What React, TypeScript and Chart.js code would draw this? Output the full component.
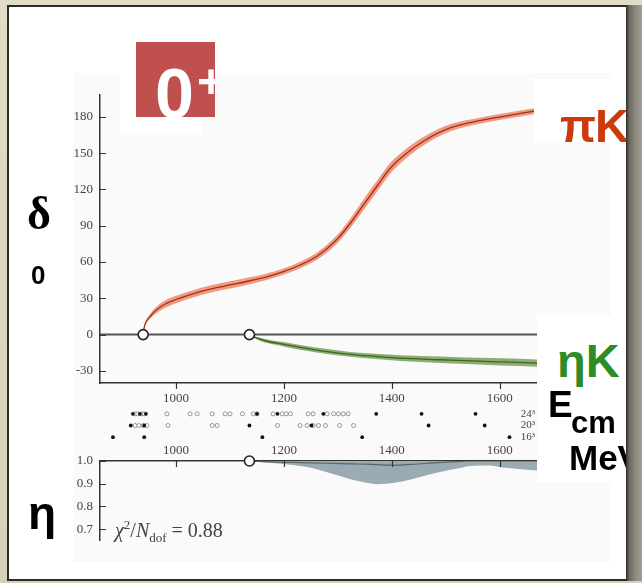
import React, { useEffect, useRef } from "react";
import { Chart, registerables } from "chart.js";

Chart.register(...registerables);

// ---- axes ----
const E_MIN = 859;
const E_MAX = 1669;
const energyTicks = [1000, 1200, 1400, 1600];
const deltaMin = -40;
const deltaMax = 198;
const deltaTicks = [-30, 0, 30, 60, 90, 120, 150, 180];
const etaMin = 0.652;
const etaMax = 1.0;
const etaTicks = [0.7, 0.8, 0.9, 1.0];

// ---- πK phase shift (degrees) ----
const piKEnergy = [939, 941, 945, 952, 960, 975, 1000, 1030, 1063, 1100, 1137, 1170, 1199, 1230, 1262, 1299, 1323, 1347, 1373, 1397, 1422, 1459, 1509, 1565, 1602, 1669];
const piKDelta = [0, 6, 11, 15, 19, 24, 29, 33.5, 37.5, 41, 44.5, 48, 52, 57.5, 65, 79, 92, 107, 123, 137.5, 148, 160, 171, 177, 180, 185];
const piKError = [0.3, 1, 1.5, 2, 2.5, 3, 3, 3, 3, 3, 2.8, 2.7, 2.6, 2.7, 3, 3.5, 4, 4.5, 4.5, 4.5, 4, 3.5, 3, 2.5, 2.5, 2.5];

// ---- ηK phase shift (degrees) ----
const etaKEnergy = [1136, 1150, 1169, 1199, 1230, 1280, 1323, 1370, 1416, 1490, 1560, 1602, 1669];
const etaKDelta = [0, -3, -5.5, -8, -10.5, -14, -16.3, -18, -19.5, -20.8, -22, -22.6, -23.5];
const etaKError = [0.2, 1, 1.5, 1.8, 2, 2, 2, 2.2, 2.4, 2.6, 2.8, 3, 3];

// ---- thresholds ----
const thresholdEnergy = [939, 1136];

// ---- inelasticity η ----
const etaEnergy = [1136, 1160, 1217, 1250, 1280, 1305, 1329, 1350, 1373, 1403, 1435, 1466, 1500, 1527, 1545, 1580, 1610, 1669];
const etaCentral = [1, 0.997, 0.994, 0.992, 0.99, 0.988, 0.987, 0.986, 0.984, 0.982, 0.985, 0.99, 0.995, 0.998, 1, 1, 1, 1];
const etaLower = [1.0, 0.995, 0.982, 0.97, 0.95, 0.933, 0.916, 0.905, 0.898, 0.903, 0.918, 0.938, 0.957, 0.969, 0.978, 0.98, 0.97, 0.958];

// ---- finite-volume levels ----
const volumeLabels = ["16\u00b3", "20\u00b3", "24\u00b3"];
const levels16Filled = [883, 941, 1160, 1345, 1618];
const levels20Filled = [916, 941, 1136, 1251, 1468, 1572];
const levels20Open = [924, 931, 939, 946, 985, 1067, 1076, 1188, 1230, 1243, 1254, 1264, 1277, 1303, 1329];
const levels24Filled = [920, 933, 944, 1150, 1188, 1273, 1371, 1455, 1555];
const levels24Open = [924, 929, 937, 941, 983, 1026, 1039, 1067, 1091, 1100, 1123, 1143, 1150, 1180, 1197, 1204, 1212, 1245, 1254, 1280, 1292, 1301, 1310, 1319];

const serif = "'Liberation Serif', 'DejaVu Serif', serif";
const sans = "'Liberation Sans', Arial, sans-serif";
const tickFont = { family: serif, size: 13 };

function makeTickPlugin(items: { axis: string; edge?: string; len: number }[]) {
  return {
    id: "innerTicks",
    afterDraw(chart: any) {
      const { ctx, chartArea } = chart;
      ctx.save();
      ctx.strokeStyle = "#333";
      ctx.lineWidth = 1.2;
      ctx.beginPath();
      for (const it of items) {
        const sc = chart.scales[it.axis];
        for (const t of sc.ticks) {
          const p = Math.round(sc.getPixelForValue(t.value)) + 0.5;
          if (sc.isHorizontal()) {
            const y0 = it.edge === "top" ? chartArea.top : chartArea.bottom;
            ctx.moveTo(p, y0);
            ctx.lineTo(p, y0 + it.len);
          } else {
            const x0 = chartArea.left;
            ctx.moveTo(x0, p);
            ctx.lineTo(x0 + it.len, p);
          }
        }
      }
      ctx.stroke();
      ctx.restore();
    },
  };
}

const pts = (xs: number[], ys: number[]) => xs.map((x, i) => ({ x, y: ys[i] }));

export default function App() {
  const mainRef = useRef<HTMLCanvasElement>(null);
  const dotsRef = useRef<HTMLCanvasElement>(null);
  const etaRef = useRef<HTMLCanvasElement>(null);

  useEffect(() => {
    const charts: Chart[] = [];
    const noPoint = { pointRadius: 0, pointHoverRadius: 0 };

    // ---------- main phase-shift chart ----------
    charts.push(
      new Chart(mainRef.current!, {
        type: "line",
        data: {
          datasets: [
            {
              label: "thresholds",
              data: thresholdEnergy.map((e) => ({ x: e, y: 0 })),
              showLine: false,
              pointRadius: 5,
              pointBackgroundColor: "#ffffff",
              pointBorderColor: "#222",
              pointBorderWidth: 1.6,
              order: 0,
            },
            {
              label: "piK",
              data: pts(piKEnergy, piKDelta),
              borderColor: "#a92c18",
              borderWidth: 1.3,
              cubicInterpolationMode: "monotone",
              fill: false,
              ...noPoint,
              order: 1,
            },
            {
              label: "etaK",
              data: pts(etaKEnergy, etaKDelta),
              borderColor: "#3c6624",
              borderWidth: 1.3,
              cubicInterpolationMode: "monotone",
              fill: false,
              ...noPoint,
              order: 1,
            },
            {
              label: "piK lo",
              data: piKEnergy.map((x, i) => ({ x, y: piKDelta[i] - piKError[i] })),
              borderColor: "rgba(0,0,0,0)",
              borderWidth: 0,
              cubicInterpolationMode: "monotone",
              fill: false,
              ...noPoint,
              order: 2,
            },
            {
              label: "piK hi",
              data: piKEnergy.map((x, i) => ({ x, y: piKDelta[i] + piKError[i] })),
              borderColor: "rgba(0,0,0,0)",
              borderWidth: 0,
              backgroundColor: "rgba(234,132,100,0.8)",
              cubicInterpolationMode: "monotone",
              fill: "-1",
              ...noPoint,
              order: 2,
            },
            {
              label: "etaK lo",
              data: etaKEnergy.map((x, i) => ({ x, y: etaKDelta[i] - etaKError[i] })),
              borderColor: "rgba(0,0,0,0)",
              borderWidth: 0,
              cubicInterpolationMode: "monotone",
              fill: false,
              ...noPoint,
              order: 2,
            },
            {
              label: "etaK hi",
              data: etaKEnergy.map((x, i) => ({ x, y: etaKDelta[i] + etaKError[i] })),
              borderColor: "rgba(0,0,0,0)",
              borderWidth: 0,
              backgroundColor: "rgba(120,158,92,0.85)",
              cubicInterpolationMode: "monotone",
              fill: "-1",
              ...noPoint,
              order: 2,
            },
            {
              label: "zero",
              data: [
                { x: E_MIN, y: 0 },
                { x: E_MAX, y: 0 },
              ],
              borderColor: "#555",
              borderWidth: 2,
              fill: false,
              ...noPoint,
              order: 3,
            },
          ],
        },
        options: {
          animation: false,
          responsive: false,
          events: [],
          layout: { padding: { left: 60, right: 105, top: 95, bottom: 170 } },
          plugins: { legend: { display: false }, tooltip: { enabled: false } },
          scales: {
            x: {
              type: "linear",
              min: E_MIN,
              max: E_MAX,
              afterBuildTicks: (s: any) => {
                s.ticks = energyTicks.map((v) => ({ value: v }));
              },
              afterFit: (s: any) => {
                s.height = 30;
              },
              grid: { display: false, drawTicks: false },
              border: { display: true, color: "#333", width: 1.5 },
              ticks: {
                font: tickFont,
                color: "#444",
                padding: 8,
                maxRotation: 0,
                autoSkip: false,
                callback: (v: any) => String(v),
              },
            },
            y: {
              type: "linear",
              min: deltaMin,
              max: deltaMax,
              afterBuildTicks: (s: any) => {
                s.ticks = deltaTicks.map((v) => ({ value: v }));
              },
              afterFit: (s: any) => {
                s.width = 40;
              },
              grid: { display: false, drawTicks: false },
              border: { display: true, color: "#333", width: 1.5 },
              ticks: {
                font: tickFont,
                color: "#444",
                padding: 7,
                autoSkip: false,
                callback: (v: any) => String(v),
              },
            },
          },
        },
        plugins: [makeTickPlugin([{ axis: "x", edge: "bottom", len: 6 }, { axis: "y", len: 6 }])],
      } as any)
    );

    // ---------- levels chart ----------
    const filled = (xs: number[], row: number) => ({
      data: xs.map((x) => ({ x, y: row })),
      pointRadius: 1.9,
      pointBackgroundColor: "#111",
      pointBorderColor: "#111",
      pointBorderWidth: 0,
      showLine: false,
    });
    const open = (xs: number[], row: number) => ({
      data: xs.map((x) => ({ x, y: row })),
      pointRadius: 2.0,
      pointBackgroundColor: "#fff",
      pointBorderColor: "#8a8a8a",
      pointBorderWidth: 0.9,
      showLine: false,
    });
    charts.push(
      new Chart(dotsRef.current!, {
        type: "scatter",
        data: {
          datasets: [
            filled(levels16Filled, 1),
            filled(levels20Filled, 2),
            filled(levels24Filled, 3),
            open(levels20Open, 2),
            open(levels24Open, 3),
          ],
        },
        options: {
          animation: false,
          responsive: false,
          events: [],
          layout: { padding: { left: 100, right: 105, top: 408, bottom: 140 } },
          plugins: { legend: { display: false }, tooltip: { enabled: false } },
          scales: {
            x: { type: "linear", min: E_MIN, max: E_MAX, display: false },
            y: {
              type: "linear",
              position: "right",
              min: 0.5,
              max: 3.5,
              afterBuildTicks: (s: any) => {
                s.ticks = [1, 2, 3].map((v) => ({ value: v }));
              },
              afterFit: (s: any) => {
                s.width = 0;
              },
              grid: { display: false, drawTicks: false },
              border: { display: false },
              ticks: {
                mirror: true,
                padding: -2,
                font: { family: serif, size: 11 },
                color: "#444",
                callback: (v: any) => volumeLabels[Number(v) - 1],
              },
            },
          },
        },
      } as any)
    );

    // ---------- inelasticity chart ----------
    charts.push(
      new Chart(etaRef.current!, {
        type: "line",
        data: {
          datasets: [
            {
              label: "threshold",
              data: [{ x: thresholdEnergy[1], y: etaMax }],
              showLine: false,
              pointRadius: 5,
              pointBackgroundColor: "#fff",
              pointBorderColor: "#222",
              pointBorderWidth: 1.6,
              clip: false,
              order: 0,
            },
            {
              label: "eta",
              data: pts(etaEnergy, etaCentral),
              borderColor: "#55666e",
              borderWidth: 1.2,
              cubicInterpolationMode: "monotone",
              fill: false,
              ...noPoint,
              order: 1,
            },
            {
              label: "eta lo",
              data: pts(etaEnergy, etaLower),
              borderColor: "rgba(0,0,0,0)",
              borderWidth: 0,
              cubicInterpolationMode: "monotone",
              fill: false,
              ...noPoint,
              order: 2,
            },
            {
              label: "eta hi",
              data: etaEnergy.map((x) => ({ x, y: etaMax })),
              borderColor: "rgba(0,0,0,0)",
              borderWidth: 0,
              backgroundColor: "#9aabb3",
              fill: "-1",
              ...noPoint,
              order: 2,
            },
          ],
        },
        options: {
          animation: false,
          responsive: false,
          events: [],
          layout: { padding: { left: 60, right: 105, top: 441, bottom: 43 } },
          plugins: { legend: { display: false }, tooltip: { enabled: false } },
          scales: {
            x: {
              type: "linear",
              position: "top",
              min: E_MIN,
              max: E_MAX,
              afterBuildTicks: (s: any) => {
                s.ticks = energyTicks.map((v) => ({ value: v }));
              },
              afterFit: (s: any) => {
                s.height = 20;
              },
              grid: { display: false, drawTicks: false },
              border: { display: true, color: "#333", width: 1.5 },
              ticks: {
                font: tickFont,
                color: "#444",
                padding: 3,
                maxRotation: 0,
                autoSkip: false,
                callback: (v: any) => String(v),
              },
            },
            y: {
              type: "linear",
              min: etaMin,
              max: etaMax,
              afterBuildTicks: (s: any) => {
                s.ticks = etaTicks.map((v) => ({ value: v }));
              },
              afterFit: (s: any) => {
                s.width = 40;
              },
              grid: { display: false, drawTicks: false },
              border: { display: true, color: "#333", width: 1.5 },
              ticks: {
                font: tickFont,
                color: "#444",
                padding: 7,
                autoSkip: false,
                callback: (v: any) => Number(v).toFixed(1),
              },
            },
          },
        },
        plugins: [makeTickPlugin([{ axis: "x", edge: "top", len: 6 }, { axis: "y", len: 6 }])],
      } as any)
    );

    return () => charts.forEach((c) => c.destroy());
  }, []);

  const abs = (o: React.CSSProperties): React.CSSProperties => ({ position: "absolute", ...o });
  const canvasStyle = abs({ left: 0, top: 0, width: 642, height: 583, zIndex: 3, display: "block" });

  return (
    <div
      style={{
        position: "fixed",
        left: 0,
        top: 0,
        width: 642,
        height: 583,
        overflow: "hidden",
        background: "linear-gradient(to bottom, #e2dbc6, #d6cfba)",
      }}
    >
      {/* white slide panel */}
      <div
        style={abs({
          left: 7,
          top: 5,
          width: 621,
          height: 576,
          background: "#fff",
          border: "2px solid #2b2b2b",
          boxSizing: "border-box",
          zIndex: 1,
        })}
      />
      {/* embedded figure background */}
      <div style={abs({ left: 73, top: 73, width: 538, height: 489, background: "#fafafa", zIndex: 2 })} />

      <canvas ref={mainRef} width={642} height={583} style={canvasStyle} />
      <canvas ref={dotsRef} width={642} height={583} style={canvasStyle} />
      <canvas ref={etaRef} width={642} height={583} style={canvasStyle} />

      {/* white label boxes */}
      <div style={abs({ left: 120, top: 73, width: 82, height: 62, background: "#fff", zIndex: 4 })} />
      <div style={abs({ left: 534, top: 79, width: 92, height: 64, background: "#fff", zIndex: 4 })} />
      <div style={abs({ left: 537, top: 315, width: 89, height: 167, background: "#fff", zIndex: 4 })} />

      {/* 0+ badge */}
      <div
        style={abs({
          left: 136,
          top: 42,
          width: 79,
          height: 75,
          background: "#c0504d",
          overflow: "hidden",
          zIndex: 5,
        })}
      >
        <div style={abs({ left: 19, top: 17, font: `bold 70px/70px ${sans}`, color: "#fff" })}>0</div>
        <div style={abs({ left: 61, top: 16, font: `bold 48px/48px ${sans}`, color: "#fff" })}>+</div>
      </div>

      {/* side labels */}
      <div style={abs({ left: 560, top: 102, font: `bold 47px/47px ${sans}`, color: "#cc3a0c", zIndex: 5, whiteSpace: "nowrap" })}>
        <span style={{ marginRight: -1 }}>π</span>K
      </div>
      <div style={abs({ left: 557, top: 337, font: `bold 47px/47px ${sans}`, color: "#2e8c28", zIndex: 5, whiteSpace: "nowrap" })}>
        ηK
      </div>
      <div style={abs({ left: 548, top: 386, font: `bold 37px/37px ${sans}`, color: "#000", zIndex: 5 })}>E</div>
      <div style={abs({ left: 571, top: 407, font: `bold 31px/31px ${sans}`, color: "#000", zIndex: 5 })}>cm</div>
      <div style={abs({ left: 569, top: 440, font: `bold 35px/35px ${sans}`, color: "#000", zIndex: 5, whiteSpace: "nowrap" })}>
        MeV
      </div>

      <div style={abs({ left: 27, top: 191, font: `bold 46px/46px ${serif}`, color: "#000", zIndex: 5 })}>δ</div>
      <div style={abs({ left: 31, top: 262, font: `bold 26px/26px ${sans}`, color: "#000", zIndex: 5 })}>0</div>
      <div style={abs({ left: 28, top: 490, font: `bold 46px/46px ${sans}`, color: "#000", zIndex: 5 })}>η</div>

      {/* chi^2 annotation */}
      <div style={abs({ left: 115, top: 520, font: `20px/20px ${serif}`, color: "#444", zIndex: 5, whiteSpace: "nowrap" })}>
        <i>χ</i>
        <sup style={{ fontSize: 13, lineHeight: 0 }}>2</sup>/<i>N</i>
        <sub style={{ fontSize: 13, lineHeight: 0 }}>dof</sub> = 0.88
      </div>

      {/* right shadow strip */}
      <div
        style={abs({
          left: 626,
          top: 5,
          width: 16,
          height: 576,
          background: "linear-gradient(to right, #2e2c28 0px, #6a665d 3px, #8c887c 9px, #a39e91 16px)",
          zIndex: 6,
        })}
      />
    </div>
  );
}
